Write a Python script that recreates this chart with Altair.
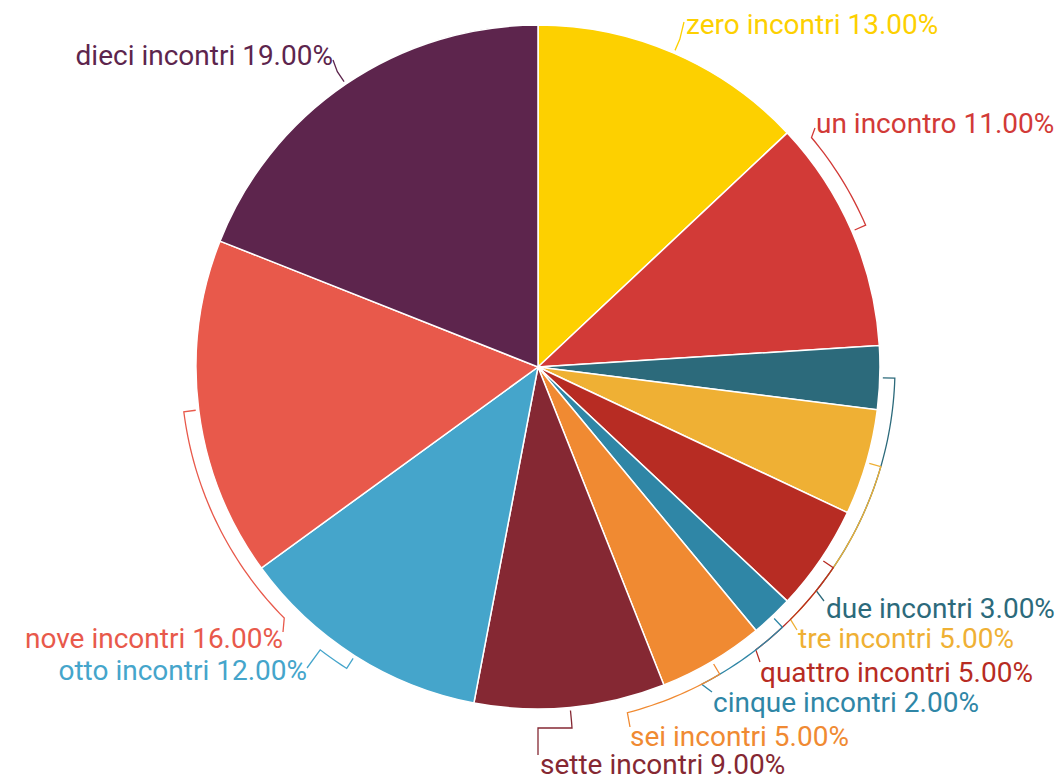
import math
import altair as alt
import pandas as pd

# ---- data ----
categories = ["zero incontri", "un incontro", "due incontri", "tre incontri",
              "quattro incontri", "cinque incontri", "sei incontri",
              "sette incontri", "otto incontri", "nove incontri", "dieci incontri"]
shares = [13, 11, 3, 5, 5, 2, 5, 9, 12, 16, 19]
colors = ["#FDD000", "#D23A37", "#2C6A7B", "#EFB034", "#B72C23", "#2F86A6",
          "#F08A32", "#852833", "#45A5CB", "#E8594B", "#5D254D"]

# ---- label layout (page pixels) ----
label_align = ["left", "left", "left", "left", "left", "left", "left", "left",
               "right", "right", "right"]
label_x = [686, 816, 826, 798, 760, 713, 630, 540, 307, 283, 333]
label_y = [34, 133, 618, 648, 682, 712, 746, 774, 680, 648, 65]
bracket_end_deg = [None, 50, 128.8, 135, 142.4, 152.7, 165.5, None, 217.6, 225.3, None]
leader_end = [(684, 22), (815, 128), (824, 601), (797, 630), (760, 662), (712, 692),
              (630, 727), (538, 755), (307, 668), (283, 632), (333, 60)]
via = {7: [(572, 728), (538, 728)]}

W, H = 1047, 767
OFF = 8
CX, CY, R = 538 - OFF, 367 - OFF, 342
RB = R + 15
RT = R + 3

total = sum(shares)
mids = []
cum = 0
for v in shares:
    mids.append((cum + v / 2) / total * 360)
    cum += v


def pt(deg, r):
    a = math.radians(deg)
    return CX + r * math.sin(a), CY - r * math.cos(a)


rows = []
for i, cat in enumerate(categories):
    pts = [pt(mids[i], RT), pt(mids[i], RB)]
    end = bracket_end_deg[i]
    if end is not None:
        n = max(2, int(abs(end - mids[i])))
        for k in range(1, n + 1):
            pts.append(pt(mids[i] + (end - mids[i]) * k / n, RB))
    for vx, vy in via.get(i, []):
        pts.append((vx - OFF, vy - OFF))
    lx, ly = leader_end[i]
    pts.append((lx - OFF, ly - OFF))
    for j, (x, y) in enumerate(pts):
        rows.append({"cat": cat, "o": j, "x": x, "y": y})
line_df = pd.DataFrame(rows)

label_df = pd.DataFrame({
    "cat": categories,
    "text": [f"{c} {v:.2f}%" for c, v in zip(categories, shares)],
    "x": [x - OFF for x in label_x],
    "y": [y - OFF for y in label_y],
    "align": label_align,
})

pie_df = pd.DataFrame({"cat": categories, "share": shares, "idx": list(range(len(categories)))})

color_scale = alt.Scale(domain=categories, range=colors)
xs = alt.Scale(domain=[0, W], range=[0, W], nice=False, zero=False)
ys = alt.Scale(domain=[0, H], range=[0, H], nice=False, zero=False)

pie = alt.Chart(pie_df).mark_arc(radius=R, stroke="white", strokeWidth=1.5).encode(
    theta=alt.Theta("share:Q", stack=True),
    order=alt.Order("idx:Q"),
    color=alt.Color("cat:N", scale=color_scale, legend=None),
    x=alt.value(CX),
    y=alt.value(CY),
)

lines = alt.Chart(line_df).mark_line(strokeWidth=1.3).encode(
    x=alt.X("x:Q", scale=xs, axis=None),
    y=alt.Y("y:Q", scale=ys, axis=None),
    order=alt.Order("o:Q"),
    color=alt.Color("cat:N", scale=color_scale, legend=None),
)


def text_layer(align):
    return alt.Chart(label_df[label_df["align"] == align]).mark_text(
        align=align, baseline="alphabetic", font="Roboto", fontSize=28
    ).encode(
        x=alt.X("x:Q", scale=xs, axis=None),
        y=alt.Y("y:Q", scale=ys, axis=None),
        text="text:N",
        color=alt.Color("cat:N", scale=color_scale, legend=None),
    )


chart = alt.layer(pie, lines, text_layer("left"), text_layer("right")).properties(
    width=W, height=H, autosize=alt.AutoSizeParams(type="none"), padding=0,
    background="white",
).configure_view(stroke=None)

chart.save("out.html", embed_options={"renderer": "svg", "actions": False})
